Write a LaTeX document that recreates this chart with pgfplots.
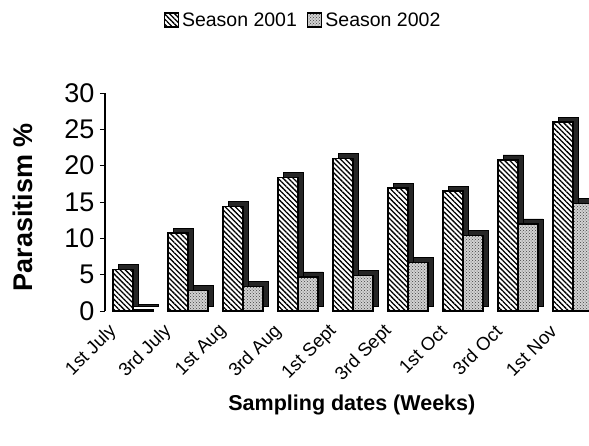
\documentclass[border=0pt]{standalone}
\usepackage{pgfplots}
\pgfplotsset{compat=1.18}
\usepackage{fontspec}
\setmainfont{Liberation Sans}
\usetikzlibrary{patterns,patterns.meta}
\begin{document}
\begin{tikzpicture}
\useasboundingbox (0,0) rectangle (589pt,445pt);
\begin{axis}[
  at={(105pt,134pt)}, anchor=south west,
  scale only axis, width=484pt, height=218pt,
  xmin=-0.51, xmax=8.29, ymin=0, ymax=30,
  ytick={0,5,...,30},
  xtick={0,...,8},
  xticklabels={1st July,3rd July,1st Aug,3rd Aug,1st Sept,3rd Sept,1st Oct,3rd Oct,1st Nov},
  axis x line*=bottom,
  axis y line*=left,
  x axis line style={draw=none},
  xtick style={draw=none},
  y axis line style={line width=1.6pt, -},
  ytick style={line width=0.8pt, black},
  major tick length=5pt,
  tick align=outside,
  /pgf/number format/assume math mode=true,
  yticklabel style={font=\fontsize{27}{27}\selectfont, xshift=-2pt},
  xticklabel style={font=\fontsize{18.5}{18.5}\selectfont, xshift=-17pt, yshift=-10pt, rotate=45, anchor=east},
  ylabel={Parasitism \%},
  ylabel style={font=\bfseries\fontsize{27}{27}\selectfont, at={(axis description cs:-0.169,0.475)}, anchor=center},
  xlabel={Sampling dates (Weeks)},
  xlabel style={font=\bfseries\fontsize{21.5}{21.5}\selectfont, at={(axis description cs:0.51,-0.431)}, anchor=center},
  clip=false,
  legend style={at={(0.409,1.335)}, anchor=center, draw=none, legend columns=2,
    font=\fontsize{19.5}{19.5}\selectfont,
    /tikz/every odd column/.append style={column sep=1pt},
    /tikz/every even column/.append style={column sep=8pt}},
  legend image code/.code={\draw[#1, line width=1.5pt] (0pt,-7pt) rectangle (14pt,7pt);},
]
% depth faces
\addplot[ybar, bar width=20pt, bar shift=-10pt, fill=black!85, draw=black, xshift=5pt, yshift=5pt, forget plot]
 coordinates {(0,5.7)(1,10.7)(2,14.4)(3,18.4)(4,21.0)(5,16.9)(6,16.5)(7,20.8)(8,26.0)};
\addplot[ybar, bar width=20pt, bar shift=10pt, fill=black!85, draw=black, xshift=5pt, yshift=5pt, forget plot]
 coordinates {(0,0.2)(1,2.8)(2,3.4)(3,4.7)(4,4.9)(5,6.7)(6,10.4)(7,12.0)(8,14.8)};
% front faces
\addplot[ybar, bar width=20pt, bar shift=-10pt, draw=black, line width=1.5pt, fill=white, postaction={pattern={Lines[angle=-45, distance=3.6pt, line width=1.3pt]}}]
 coordinates {(0,5.7)(1,10.7)(2,14.4)(3,18.4)(4,21.0)(5,16.9)(6,16.5)(7,20.8)(8,26.0)};
\addlegendentry{Season 2001}
\addplot[ybar, bar width=20pt, bar shift=10pt, draw=black, line width=1.5pt, fill=gray!35, postaction={pattern=crosshatch dots, pattern color=black!75}]
 coordinates {(0,0.2)(1,2.8)(2,3.4)(3,4.7)(4,4.9)(5,6.7)(6,10.4)(7,12.0)(8,14.8)};
\addlegendentry{Season 2002}
\end{axis}
\end{tikzpicture}
\end{document}
